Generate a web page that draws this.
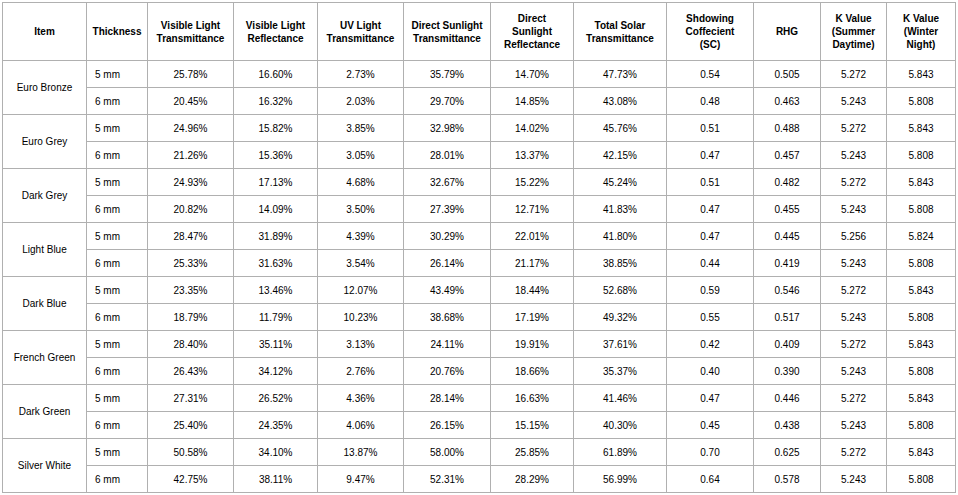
<!DOCTYPE html>
<html><head><meta charset="utf-8">
<script src="https://cdn.jsdelivr.net/npm/chart.js@4"></script>
<style>
body{margin:0;background:#fff;font-family:"Liberation Sans",Arial,sans-serif;}
table{position:absolute;left:2px;top:2px;border-collapse:collapse;table-layout:fixed;width:953px;font-size:10px;color:#000;}
td,th{border:1px solid #b0b0b0;text-align:center;padding:0;}
th{font-weight:bold;height:57px;line-height:13px;}
td{height:26px;}
td.t{text-align:left;padding-left:8px;}
</style></head><body>
<table id="tb"><colgroup id="cg"></colgroup><thead><tr id="hr"></tr></thead><tbody id="bd"></tbody></table>
<script>
const headers=["Item","Thickness","Visible Light<br>Transmittance","Visible Light<br>Reflectance","UV Light<br>Transmittance","Direct Sunlight<br>Transmittance","Direct<br>Sunlight<br>Reflectance","Total Solar<br>Transmittance","Shdowing<br>Coffecient<br>(SC)","RHG","K Value<br>(Summer<br>Daytime)","K Value<br>(Winter<br>Night)"];
const items=["Euro Bronze","Euro Grey","Dark Grey","Light Blue","Dark Blue","French Green","Dark Green","Silver White"];
const thickness=["5 mm","6 mm"];
const vlt=["25.78%","20.45%","24.96%","21.26%","24.93%","20.82%","28.47%","25.33%","23.35%","18.79%","28.40%","26.43%","27.31%","25.40%","50.58%","42.75%"];
const vlr=["16.60%","16.32%","15.82%","15.36%","17.13%","14.09%","31.89%","31.63%","13.46%","11.79%","35.11%","34.12%","26.52%","24.35%","34.10%","38.11%"];
const uv=["2.73%","2.03%","3.85%","3.05%","4.68%","3.50%","4.39%","3.54%","12.07%","10.23%","3.13%","2.76%","4.36%","4.06%","13.87%","9.47%"];
const dst=["35.79%","29.70%","32.98%","28.01%","32.67%","27.39%","30.29%","26.14%","43.49%","38.68%","24.11%","20.76%","28.14%","26.15%","58.00%","52.31%"];
const dsr=["14.70%","14.85%","14.02%","13.37%","15.22%","12.71%","22.01%","21.17%","18.44%","17.19%","19.91%","18.66%","16.63%","15.15%","25.85%","28.29%"];
const tst=["47.73%","43.08%","45.76%","42.15%","45.24%","41.83%","41.80%","38.85%","52.68%","49.32%","37.61%","35.37%","41.46%","40.30%","61.89%","56.99%"];
const sc=["0.54","0.48","0.51","0.47","0.51","0.47","0.47","0.44","0.59","0.55","0.42","0.40","0.47","0.45","0.70","0.64"];
const rhg=["0.505","0.463","0.488","0.457","0.482","0.455","0.445","0.419","0.546","0.517","0.409","0.390","0.446","0.438","0.625","0.578"];
const kSummer=["5.272","5.243","5.272","5.243","5.272","5.243","5.256","5.243","5.272","5.243","5.272","5.243","5.272","5.243","5.272","5.243"];
const kWinter=["5.843","5.808","5.843","5.808","5.843","5.808","5.824","5.808","5.843","5.808","5.843","5.808","5.843","5.808","5.843","5.808"];
const widths=[84,61,86,84,86,87,83,93,87,67,66,69];
const cg=document.getElementById('cg');
widths.forEach(w=>{const c=document.createElement('col');c.style.width=w+'px';cg.appendChild(c);});
const hr=document.getElementById('hr');
headers.forEach(h=>{const th=document.createElement('th');th.innerHTML=h;hr.appendChild(th);});
const bd=document.getElementById('bd');
const cols=[vlt,vlr,uv,dst,dsr,tst,sc,rhg,kSummer,kWinter];
for(let i=0;i<16;i++){
  const tr=document.createElement('tr');
  if(i%2===0){const td=document.createElement('td');td.rowSpan=2;td.textContent=items[i/2];tr.appendChild(td);}
  const t=document.createElement('td');t.className='t';t.textContent=thickness[i%2];tr.appendChild(t);
  cols.forEach(c=>{const td=document.createElement('td');td.textContent=c[i];tr.appendChild(td);});
  bd.appendChild(tr);
}
</script>
</body></html>
